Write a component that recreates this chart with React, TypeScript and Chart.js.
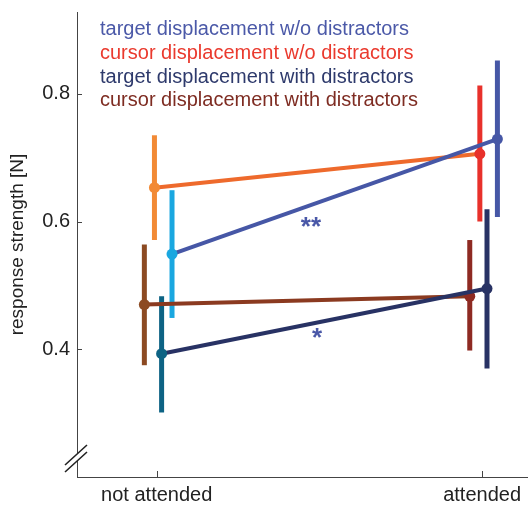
import React, { useEffect, useRef } from "react";
import { Chart, registerables } from "chart.js";

Chart.register(...registerables);

const categories = ["not attended", "attended"];
const seriesLabels = [
  "target displacement w/o distractors",
  "cursor displacement w/o distractors",
  "target displacement with distractors",
  "cursor displacement with distractors",
];
const targetWoMean = [0.549, 0.729];
const targetWoLow = [0.449, 0.607];
const targetWoHigh = [0.649, 0.852];
const cursorWoMean = [0.653, 0.706];
const cursorWoLow = [0.571, 0.6];
const cursorWoHigh = [0.735, 0.813];
const targetWithMean = [0.393, 0.495];
const targetWithLow = [0.301, 0.37];
const targetWithHigh = [0.483, 0.619];
const cursorWithMean = [0.47, 0.483];
const cursorWithLow = [0.375, 0.398];
const cursorWithHigh = [0.564, 0.571];
const yTicks = [0.4, 0.6, 0.8];
const annotations = [
  { text: "**", x: 1.474, y: 0.594 },
  { text: "*", x: 1.493, y: 0.419 },
];

const FONT = "'Liberation Sans', Arial, Helvetica, sans-serif";

// styles: legend colour, line colour, left/right point colours, x offset, draw order
const styles = [
  { legend: "#4b59a8", line: "#4657a6", left: "#1aa7e0", right: "#4657a6", off: 0.047, order: 0 },
  { legend: "#ea3a2e", line: "#ee6a2c", left: "#f28a35", right: "#e8312b", off: -0.007, order: 1 },
  { legend: "#2e3a6c", line: "#283264", left: "#0d6384", right: "#283264", off: 0.015, order: 0 },
  { legend: "#7e2c22", line: "#8b3a20", left: "#8c4a22", right: "#8e2a22", off: -0.038, order: 1 },
];

const means = [targetWoMean, cursorWoMean, targetWithMean, cursorWithMean];
const lows = [targetWoLow, cursorWoLow, targetWithLow, cursorWithLow];
const highs = [targetWoHigh, cursorWoHigh, targetWithHigh, cursorWithHigh];

export default function App() {
  const ref = useRef<HTMLCanvasElement | null>(null);
  useEffect(() => {
    if (!ref.current) return;
    const datasets = seriesLabels.map((label, i) => {
      const st = styles[i];
      return {
        label,
        data: means[i].map((v, j) => ({ x: j + 1 + st.off, y: v })),
        errLow: lows[i],
        errHigh: highs[i],
        showLine: true,
        borderColor: st.line,
        borderWidth: 4,
        pointBackgroundColor: [st.left, st.right],
        pointBorderColor: [st.left, st.right],
        pointBorderWidth: 0,
        pointRadius: 5.5,
        order: st.order,
        clip: false,
      } as any;
    });

    const errorBars = {
      id: "errorBars",
      beforeDatasetsDraw(chart: any) {
        const ctx = chart.ctx;
        const xs = chart.scales.x;
        const ys = chart.scales.y;
        ctx.save();
        ctx.lineCap = "butt";
        ctx.lineWidth = 5;
        chart.data.datasets.forEach((ds: any, i: number) => {
          ds.data.forEach((p: any, j: number) => {
            const x = xs.getPixelForValue(p.x);
            ctx.strokeStyle = j === 0 ? styles[i].left : styles[i].right;
            ctx.beginPath();
            ctx.moveTo(x, ys.getPixelForValue(ds.errLow[j]));
            ctx.lineTo(x, ys.getPixelForValue(ds.errHigh[j]));
            ctx.stroke();
          });
        });
        ctx.restore();
      },
    };

    const decorations = {
      id: "decorations",
      afterDraw(chart: any) {
        const ctx = chart.ctx;
        const xs = chart.scales.x;
        const ys = chart.scales.y;
        const { left, bottom } = chart.chartArea;
        ctx.save();
        // inward tick marks
        ctx.strokeStyle = "#444";
        ctx.lineWidth = 1;
        ys.ticks.forEach((t: any) => {
          const y = Math.round(ys.getPixelForValue(t.value)) + 0.5;
          ctx.beginPath();
          ctx.moveTo(left, y);
          ctx.lineTo(left + 5, y);
          ctx.stroke();
        });
        xs.ticks.forEach((t: any) => {
          const x = Math.round(xs.getPixelForValue(t.value)) + 0.5;
          ctx.beginPath();
          ctx.moveTo(x, bottom);
          ctx.lineTo(x, bottom - 6);
          ctx.stroke();
        });
        // axis break
        ctx.fillStyle = "#ffffff";
        ctx.beginPath();
        ctx.moveTo(left - 12, bottom - 12);
        ctx.lineTo(left + 10, bottom - 32);
        ctx.lineTo(left + 10, bottom - 25);
        ctx.lineTo(left - 12, bottom - 5);
        ctx.closePath();
        ctx.fill();
        ctx.strokeStyle = "#222";
        ctx.lineWidth = 1.6;
        ctx.beginPath();
        ctx.moveTo(left - 12, bottom - 12);
        ctx.lineTo(left + 10, bottom - 32);
        ctx.moveTo(left - 12, bottom - 5);
        ctx.lineTo(left + 10, bottom - 25);
        ctx.stroke();
        // legend text
        ctx.font = `20px ${FONT}`;
        ctx.textAlign = "left";
        ctx.textBaseline = "alphabetic";
        const baselines = [35, 59, 83, 106];
        chart.data.datasets.forEach((ds: any, i: number) => {
          ctx.fillStyle = styles[i].legend;
          ctx.fillText(ds.label, 100, baselines[i]);
        });
        // significance asterisks
        ctx.font = `bold 26px ${FONT}`;
        ctx.fillStyle = "#4a58a8";
        ctx.textAlign = "center";
        ctx.textBaseline = "middle";
        annotations.forEach((a) => {
          ctx.fillText(a.text, xs.getPixelForValue(a.x), ys.getPixelForValue(a.y) + 2);
        });
        ctx.restore();
      },
    };

    const chart = new Chart(ref.current, {
      type: "scatter",
      data: { datasets },
      plugins: [errorBars, decorations],
      options: {
        animation: false,
        responsive: false,
        devicePixelRatio: 1,
        layout: { autoPadding: false, padding: { top: 12, left: 0, right: 0, bottom: 0 } },
        plugins: { legend: { display: false }, tooltip: { enabled: false } },
        scales: {
          x: {
            type: "linear",
            min: 0.755,
            max: 2.141,
            afterFit: (s: any) => {
              s.height = 29;
              s.paddingLeft = 0;
              s.paddingRight = 0;
            },
            afterBuildTicks: (s: any) => {
              s.ticks = categories.map((_, i) => ({ value: i + 1 }));
            },
            ticks: {
              callback: (v: any) => categories[Math.round(Number(v)) - 1] ?? "",
              font: { family: FONT, size: 20 },
              color: "#222",
              padding: 6,
              maxRotation: 0,
              autoSkip: false,
            },
            grid: { display: false, drawTicks: false },
            border: { display: true, color: "#444", width: 1 },
          },
          y: {
            type: "linear",
            min: 0.2,
            max: 0.928,
            afterFit: (s: any) => {
              s.width = 77;
              s.paddingTop = 0;
              s.paddingBottom = 0;
            },
            afterBuildTicks: (s: any) => {
              s.ticks = yTicks.map((v) => ({ value: v }));
            },
            ticks: {
              callback: (v: any) => Number(v).toFixed(1),
              font: { family: FONT, size: 20 },
              color: "#222",
              padding: 7,
              autoSkip: false,
            },
            grid: { display: false, drawTicks: false },
            border: { display: true, color: "#444", width: 1 },
            title: {
              display: true,
              text: "response strength [N]",
              font: { family: FONT, size: 19 },
              color: "#222",
              padding: { top: 6, bottom: 0 },
            },
          },
        },
      } as any,
    });
    return () => chart.destroy();
  }, []);

  return (
    <div style={{ position: "fixed", left: 0, top: 0, width: 528, height: 506, background: "#fff" }}>
      <canvas ref={ref} width={528} height={506} style={{ width: 528, height: 506, display: "block" }} />
    </div>
  );
}
